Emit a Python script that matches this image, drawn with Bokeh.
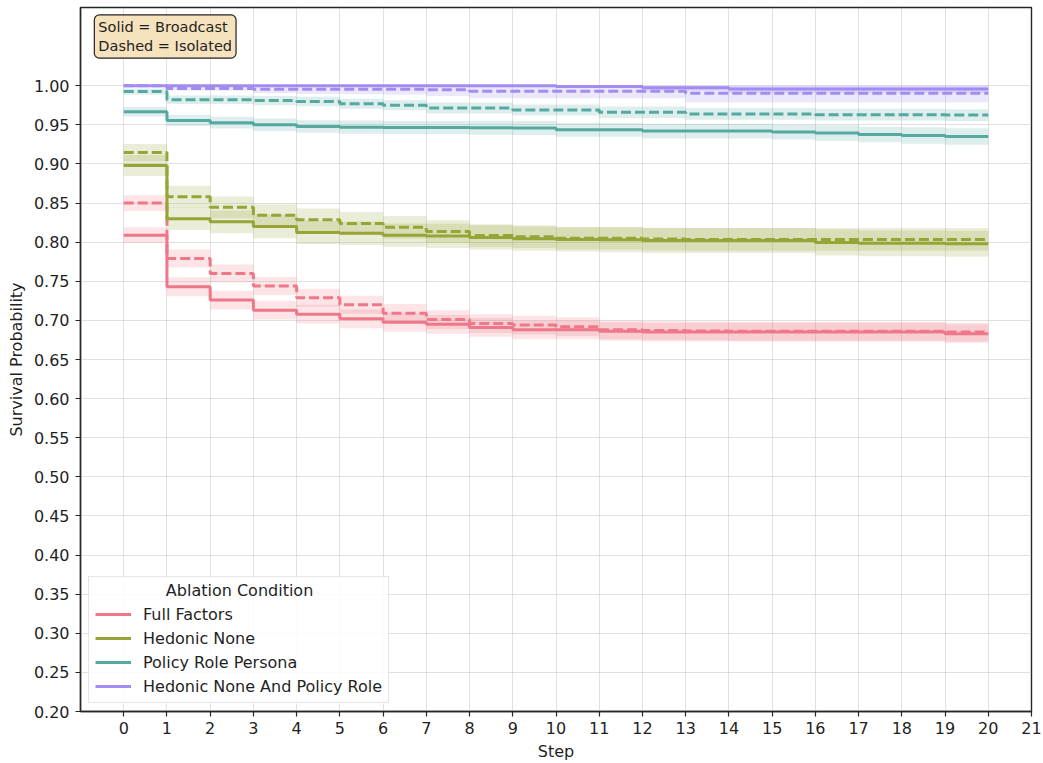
from bokeh.plotting import figure
from bokeh.models import (Legend, LegendItem, Label, FixedTicker, BoxAnnotation,
                          NumeralTickFormatter, Range1d)
from bokeh.embed import file_html
from bokeh.resources import INLINE

# ---------------- data ----------------
steps = list(range(21))
conditions = ["Full Factors", "Hedonic None", "Policy Role Persona",
              "Hedonic None And Policy Role"]
colors = ["#ee7889", "#97a436", "#55a9a0", "#a28cf2"]

# survival probability, solid = Broadcast, dashed = Isolated
full_broadcast = [0.809, 0.743, 0.726, 0.713, 0.708, 0.702, 0.6975, 0.695, 0.691, 0.688, 0.688,
                  0.686, 0.685, 0.685, 0.685, 0.685, 0.685, 0.685, 0.685, 0.683, 0.683]
full_isolated = [0.850, 0.779, 0.760, 0.744, 0.729, 0.720, 0.709, 0.701, 0.696, 0.694, 0.692,
                 0.688, 0.687, 0.6865, 0.686, 0.686, 0.686, 0.686, 0.686, 0.685, 0.685]
hedonic_broadcast = [0.898, 0.830, 0.826, 0.820, 0.8125, 0.8115, 0.809, 0.808, 0.806, 0.8045, 0.8035,
                     0.803, 0.802, 0.802, 0.802, 0.802, 0.7996, 0.7985, 0.7985, 0.798, 0.798]
hedonic_isolated = [0.9145, 0.858, 0.8445, 0.8345, 0.8285, 0.824, 0.819, 0.8135, 0.8085, 0.807, 0.805,
                    0.805, 0.804, 0.8035, 0.8035, 0.8035, 0.8035, 0.8035, 0.8035, 0.8035, 0.8035]
policy_broadcast = [0.9667, 0.9556, 0.9528, 0.950, 0.948, 0.947, 0.9465, 0.9465, 0.9462, 0.946, 0.9438,
                    0.9438, 0.942, 0.942, 0.942, 0.9407, 0.9394, 0.9377, 0.9364, 0.935, 0.935]
policy_isolated = [0.9925, 0.982, 0.982, 0.981, 0.9798, 0.977, 0.975, 0.9714, 0.9714, 0.969, 0.969,
                   0.966, 0.966, 0.964, 0.964, 0.964, 0.963, 0.963, 0.963, 0.9625, 0.9625]
hnpr_broadcast = [1.0, 1.0, 1.0, 1.0, 1.0, 1.0, 1.0, 1.0, 1.0, 1.0, 0.999,
                  0.999, 0.9975, 0.9975, 0.9958, 0.9958, 0.9958, 0.9958, 0.9958, 0.9958, 0.9958]
hnpr_isolated = [1.0, 0.9966, 0.9966, 0.9955, 0.9955, 0.9955, 0.9955, 0.995, 0.993, 0.993, 0.993,
                 0.993, 0.993, 0.9905, 0.9905, 0.9905, 0.9905, 0.9905, 0.9905, 0.9905, 0.9905]

# confidence band half widths
full_broadcast_ci = [0.010, 0.012, 0.012, 0.012, 0.012, 0.012, 0.012, 0.012, 0.012, 0.012, 0.012,
                     0.012, 0.012, 0.012, 0.012, 0.012, 0.012, 0.012, 0.012, 0.012, 0.012]
full_isolated_ci = [0.010, 0.0115, 0.0115, 0.0115, 0.0115, 0.0115, 0.012, 0.012, 0.012, 0.012, 0.012,
                    0.012, 0.012, 0.012, 0.012, 0.012, 0.012, 0.012, 0.012, 0.012, 0.012]
hedonic_broadcast_ci = [0.0135, 0.0145, 0.0145, 0.015, 0.015, 0.015, 0.015, 0.0155, 0.0155, 0.0155, 0.0155,
                        0.016, 0.016, 0.016, 0.016, 0.016, 0.0165, 0.0165, 0.0165, 0.0165, 0.0165]
hedonic_isolated_ci = [0.011, 0.014, 0.014, 0.014, 0.0145, 0.0145, 0.0145, 0.0145, 0.0145, 0.0145, 0.0145,
                       0.0145, 0.0145, 0.0145, 0.0145, 0.0145, 0.0145, 0.0145, 0.0145, 0.0145, 0.0145]
policy_broadcast_ci = [0.006, 0.007, 0.0075, 0.008, 0.008, 0.0085, 0.0085, 0.0085, 0.009, 0.009, 0.009,
                       0.009, 0.0095, 0.0095, 0.0095, 0.0095, 0.01, 0.01, 0.0105, 0.0105, 0.0105]
policy_isolated_ci = [0.004, 0.0055, 0.0055, 0.006, 0.006, 0.0065, 0.0065, 0.007, 0.007, 0.007, 0.007,
                      0.0075, 0.0075, 0.0075, 0.0075, 0.0075, 0.0075, 0.0075, 0.0075, 0.0075, 0.0075]
hnpr_broadcast_ci = [0.0, 0.0, 0.0, 0.0, 0.0, 0.0, 0.0, 0.0, 0.0, 0.0, 0.002,
                     0.002, 0.004, 0.004, 0.005, 0.005, 0.005, 0.005, 0.005, 0.005, 0.005]
hnpr_isolated_ci = [0.0, 0.003, 0.003, 0.005, 0.006, 0.0065, 0.007, 0.008, 0.009, 0.009, 0.009,
                    0.009, 0.009, 0.012, 0.012, 0.012, 0.012, 0.012, 0.012, 0.012, 0.012]

broadcast = [full_broadcast, hedonic_broadcast, policy_broadcast, hnpr_broadcast]
isolated = [full_isolated, hedonic_isolated, policy_isolated, hnpr_isolated]
broadcast_ci = [full_broadcast_ci, hedonic_broadcast_ci, policy_broadcast_ci, hnpr_broadcast_ci]
isolated_ci = [full_isolated_ci, hedonic_isolated_ci, policy_isolated_ci, hnpr_isolated_ci]

x_ticks = list(range(22))
y_ticks = [0.20, 0.25, 0.30, 0.35, 0.40, 0.45, 0.50, 0.55, 0.60, 0.65, 0.70,
           0.75, 0.80, 0.85, 0.90, 0.95, 1.00]

FONT = "DejaVu Sans"
TXT = "#1f1f1f"
FS = "16px"

p = figure(width=1043, height=763, x_range=Range1d(-1, 21), y_range=Range1d(0.2, 1.1),
           output_backend="svg", toolbar_location=None,
           min_border_left=80, min_border_right=12, min_border_top=7, min_border_bottom=52)
p.background_fill_color = "white"
p.border_fill_color = "white"
p.outline_line_color = "#262626"
p.outline_line_width = 1.4

for ax in (p.xaxis[0], p.yaxis[0]):
    ax.axis_line_color = "#262626"
    ax.axis_line_width = 1.4
    ax.major_tick_line_color = "#262626"
    ax.major_tick_line_width = 1.2
    ax.major_tick_in = 0
    ax.major_tick_out = 5
    ax.minor_tick_line_color = None
    ax.major_label_text_font = FONT
    ax.major_label_text_font_size = FS
    ax.major_label_text_color = TXT
    ax.axis_label_text_font = FONT
    ax.axis_label_text_font_size = FS
    ax.axis_label_text_font_style = "normal"
    ax.axis_label_text_color = TXT

p.xaxis.ticker = FixedTicker(ticks=x_ticks)
p.yaxis.ticker = FixedTicker(ticks=y_ticks)
p.yaxis.formatter = NumeralTickFormatter(format="0.00")
p.xaxis.axis_label = "Step"
p.yaxis.axis_label = "Survival Probability"
p.xaxis.major_label_standoff = 5
p.yaxis.major_label_standoff = 6
p.xaxis.axis_label_standoff = 5
p.yaxis.axis_label_standoff = 5

for g in (p.xgrid[0], p.ygrid[0]):
    g.grid_line_color = "#b0b0b0"
    g.grid_line_alpha = 0.38
    g.grid_line_width = 1

# translucent white panel behind the legend (legend itself is transparent)
p.add_layout(BoxAnnotation(left=-0.815, right=6.13, bottom=0.2102, top=0.3726,
                           fill_color="white", fill_alpha=0.85, line_color=None,
                           level="underlay", border_radius=4))

legend_items = []
for name, col, yb, yi, cb, ci in zip(conditions, colors, broadcast, isolated, broadcast_ci, isolated_ci):
    lb = [v - c for v, c in zip(yb, cb)]
    ub = [min(1.0, v + c) for v, c in zip(yb, cb)]
    li = [v - c for v, c in zip(yi, ci)]
    ui = [min(1.0, v + c) for v, c in zip(yi, ci)]
    p.varea_step(x=steps, y1=lb, y2=ub, step_mode="after", fill_color=col, fill_alpha=0.2)
    p.varea_step(x=steps, y1=li, y2=ui, step_mode="after", fill_color=col, fill_alpha=0.2)
    rb = p.step(x=steps, y=yb, mode="after", line_color=col, line_width=3)
    p.step(x=steps, y=yi, mode="after", line_color=col, line_width=3, line_dash="10 4")
    legend_items.append(LegendItem(label=name, renderers=[rb]))

legend = Legend(items=legend_items, location="bottom_left", title=" ",
                label_text_font=FONT, label_text_font_size=FS, label_text_color=TXT,
                title_text_font=FONT, title_text_font_size=FS, title_text_font_style="normal",
                title_standoff=2,
                glyph_width=36, glyph_height=20, spacing=4, label_standoff=12,
                padding=6, margin=8,
                border_line_color="#cccccc", border_line_width=1,
                background_fill_alpha=0)
p.add_layout(legend)

# centred legend title
p.add_layout(Label(x=2.68, y=0.3547, text="Ablation Condition", text_align="center",
                   text_baseline="middle", text_font=FONT, text_font_size=FS,
                   text_color=TXT, level="overlay"))

# style note box
p.add_layout(Label(x=-0.68, y=1.0905, text="Solid = Broadcast\nDashed = Isolated",
                   text_align="left", text_baseline="top", text_font=FONT,
                   text_font_size="14.5px", text_color=TXT,
                   background_fill_color="#f5deb3", background_fill_alpha=0.85,
                   border_line_color="#222222", border_line_width=1.2,
                   padding=4, border_radius=5, level="overlay"))

open("out.html", "w").write(file_html(p, INLINE))
